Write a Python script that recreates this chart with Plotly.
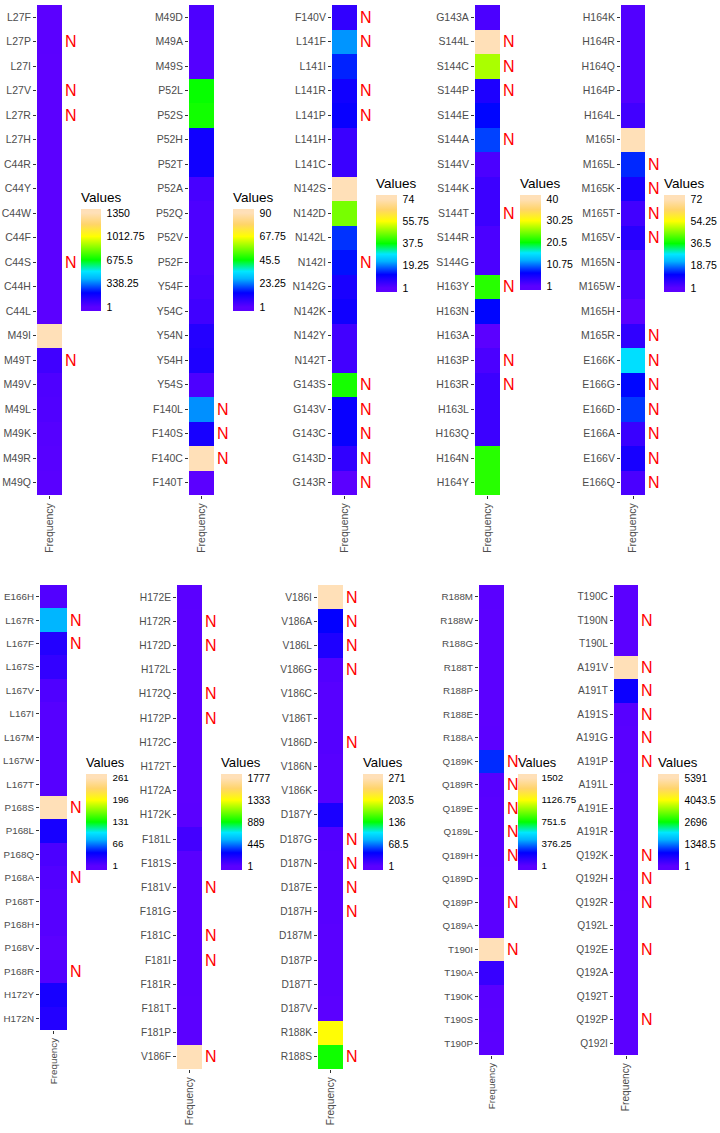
import plotly.graph_objects as go

W, H = 720, 1133

# ---------------- data ----------------
p1_labels = ["L27F", "L27P", "L27I", "L27V", "L27R", "L27H", "C44R", "C44Y", "C44W", "C44F",
             "C44S", "C44H", "C44L", "M49I", "M49T", "M49V", "M49L", "M49K", "M49R", "M49Q"]
p1_values = [2, 3, 1, 2, 2, 1, 1, 1, 1, 1, 2, 1, 1, 1350, 60, 30, 25, 15, 10, 5]
p1_n = ["L27P", "L27V", "L27R", "C44S", "M49T"]

p2_labels = ["M49D", "M49A", "M49S", "P52L", "P52S", "P52H", "P52T", "P52A", "P52Q", "P52V",
             "P52F", "Y54F", "Y54C", "Y54N", "Y54H", "Y54S", "F140L", "F140S", "F140C", "F140T"]
p2_values = [3, 2, 2, 46, 47, 12, 12, 4, 3, 3, 3, 4, 5, 9, 10, 3, 25, 11, 90, 1]
p2_n = ["F140L", "F140S", "F140C"]

p3_labels = ["F140V", "L141F", "L141I", "L141R", "L141P", "L141H", "L141C", "N142S", "N142D", "N142L",
             "N142I", "N142G", "N142K", "N142Y", "N142T", "G143S", "G143V", "G143C", "G143D", "G143R"]
p3_values = [6, 21, 14, 10, 11, 5, 5, 74, 46, 15, 13, 9, 10, 4, 4, 39, 11, 11, 6, 1]
p3_n = ["F140V", "L141F", "L141R", "L141P", "N142I", "G143S", "G143V", "G143C", "G143D", "G143R"]

p4_labels = ["G143A", "S144L", "S144C", "S144P", "S144E", "S144A", "S144V", "S144K", "S144T", "S144R",
             "S144G", "H163Y", "H163N", "H163A", "H163P", "H163R", "H163L", "H163Q", "H164N", "H164Y"]
p4_values = [2, 40, 27, 5, 7, 9, 2, 3, 3, 2, 2, 22, 7, 1, 2, 3, 3, 3, 22, 22]
p4_n = ["S144L", "S144C", "S144P", "S144A", "S144T", "H163Y", "H163P", "H163R"]

p5_labels = ["H164K", "H164R", "H164Q", "H164P", "H164L", "M165I", "M165L", "M165K", "M165T", "M165V",
             "M165N", "M165W", "M165H", "M165R", "E166K", "E166G", "E166D", "E166A", "E166V", "E166Q"]
p5_values = [2, 2, 2, 2, 4, 72, 14, 9, 4, 7, 3, 3, 1, 6, 27, 12, 15, 5, 9, 3]
p5_n = ["M165L", "M165K", "M165T", "M165V", "M165R", "E166K", "E166G", "E166D", "E166A", "E166V", "E166Q"]

p6_labels = ["E166H", "L167R", "L167F", "L167S", "L167V", "L167I", "L167M", "L167W", "L167T", "P168S",
             "P168L", "P168Q", "P168A", "P168T", "P168H", "P168V", "P168R", "H172Y", "H172N"]
p6_values = [5, 80, 25, 18, 6, 3, 3, 3, 3, 261, 30, 8, 5, 3, 3, 1, 4, 30, 25]
p6_n = ["L167R", "L167F", "P168S", "P168A", "P168R"]

p7_labels = ["H172E", "H172R", "H172D", "H172L", "H172Q", "H172P", "H172C", "H172T", "H172A", "H172K",
             "F181L", "F181S", "F181V", "F181G", "F181C", "F181I", "F181R", "F181T", "F181P", "V186F"]
p7_values = [3, 2, 2, 2, 2, 2, 2, 2, 2, 5, 70, 8, 6, 4, 4, 4, 3, 2, 1, 1777]
p7_n = ["H172R", "H172D", "H172Q", "H172P", "F181V", "F181C", "F181I", "V186F"]

p8_labels = ["V186I", "V186A", "V186L", "V186G", "V186C", "V186T", "V186D", "V186N", "V186K", "D187Y",
             "D187G", "D187N", "D187E", "D187H", "D187M", "D187P", "D187T", "D187V", "R188K", "R188S"]
p8_values = [271, 40, 28, 5, 3, 3, 4, 3, 3, 30, 5, 4, 4, 3, 2, 2, 2, 1, 205, 140]
p8_n = ["V186I", "V186A", "V186L", "V186G", "V186D", "D187G", "D187N", "D187E", "D187H", "R188S"]

p9_labels = ["R188M", "R188W", "R188G", "R188T", "R188P", "R188E", "R188A", "Q189K", "Q189R", "Q189E",
             "Q189L", "Q189H", "Q189D", "Q189P", "Q189A", "T190I", "T190A", "T190K", "T190S", "T190P"]
p9_values = [3, 2, 2, 2, 2, 2, 3, 280, 10, 5, 4, 3, 2, 2, 1, 1502, 90, 5, 3, 2]
p9_n = ["Q189K", "Q189R", "Q189E", "Q189L", "Q189H", "Q189P", "T190I"]

p10_labels = ["T190C", "T190N", "T190L", "A191V", "A191T", "A191S", "A191G", "A191P", "A191L", "A191E",
              "A191R", "Q192K", "Q192H", "Q192R", "Q192L", "Q192E", "Q192A", "Q192T", "Q192P", "Q192I"]
p10_values = [5, 4, 3, 5391, 700, 40, 20, 15, 10, 8, 6, 8, 6, 5, 4, 3, 2, 2, 2, 1]
p10_n = ["T190N", "A191V", "A191T", "A191S", "A191G", "A191P", "Q192K", "Q192H", "Q192R", "Q192E", "Q192P"]

panels = [
    (p1_labels, p1_values, p1_n), (p2_labels, p2_values, p2_n), (p3_labels, p3_values, p3_n),
    (p4_labels, p4_values, p4_n), (p5_labels, p5_values, p5_n), (p6_labels, p6_values, p6_n),
    (p7_labels, p7_values, p7_n), (p8_labels, p8_values, p8_n), (p9_labels, p9_values, p9_n),
    (p10_labels, p10_values, p10_n),
]

# ---------------- geometry (pixels) ----------------
# heatmap x0,x1,y0,y1 ; colorbar x0,x1,y0,y1 ; font size
geom = [
    (37, 62, 5, 495, 81, 101, 209, 311, 10.5),
    (189, 214, 5, 495, 233, 254, 209, 311, 10.5),
    (332, 357, 5, 495, 376, 397, 195, 292, 10.5),
    (475, 500, 5, 495, 520, 541, 195, 290, 10.5),
    (621, 645, 5, 495, 664, 685, 195, 292, 10.5),
    (40, 67, 585, 1030, 86, 107, 774, 870, 9.8),
    (177, 202, 585, 1069, 221, 242, 774, 870, 10.2),
    (318, 343, 585, 1069, 363, 383, 774, 870, 10.2),
    (479, 504, 585, 1055, 518, 537, 774, 870, 9.8),
    (614, 638, 585, 1055, 658, 679, 774, 870, 10.2),
]

base_scale = [
    (0.0, "#5B00FF"),
    (0.15, "#0000FF"),
    (0.3, "#00B4FF"),
    (0.38, "#00E8FF"),
    (0.5, "#00FF00"),
    (0.75, "#FFFF00"),
    (0.88, "#FFD46A"),
    (1.0, "#FFE0B8"),
]
PAD = 4  # px the legend bar extends beyond its limits (ggplot style)

FONT = "Liberation Sans, Arial, Helvetica, sans-serif"


def fmt(v):
    return f"{v:.2f}".rstrip("0").rstrip(".")


fig = go.Figure()
layout = dict(
    width=W, height=H, margin=dict(l=0, r=0, t=0, b=0),
    paper_bgcolor="white", plot_bgcolor="white",
    font=dict(family=FONT), showlegend=False,
)
annotations = []

for i, ((labels, values, nlist), g) in enumerate(zip(panels, geom), start=1):
    hx0, hx1, hy0, hy1, cx0, cx1, cy0, cy1, fs = g
    sfx = "" if i == 1 else str(i)
    cax = "coloraxis" + sfx
    vmin, vmax = min(values), max(values)
    barlen = cy1 - cy0
    e = PAD / (barlen - 2 * PAD)
    delta = (vmax - vmin) * e
    cs = [[0.0, base_scale[0][1]]]
    cs += [[(s + e) / (1 + 2 * e), c] for s, c in base_scale]
    cs += [[1.0, base_scale[-1][1]]]
    fig.add_trace(go.Heatmap(
        x=["Frequency"], y=labels, z=[[v] for v in values],
        coloraxis=cax, xaxis="x" + sfx, yaxis="y" + sfx,
    ))
    tv = [vmin + k * (vmax - vmin) / 4 for k in range(5)]
    title_h = 20
    layout[cax] = dict(
        colorscale=cs, cmin=vmin - delta, cmax=vmax + delta,
        colorbar=dict(
            x=cx0 / W, xanchor="left", y=1 - (cy0 - title_h) / H, yanchor="top",
            len=(barlen + title_h) / H, lenmode="fraction",
            thickness=cx1 - cx0, thicknessmode="pixels",
            xpad=0, ypad=0, outlinewidth=0,
            ticks="outside", ticklen=3 if i == 9 else 4, tickcolor="rgba(0,0,0,0)", tickwidth=1,
            tickvals=tv, ticktext=[fmt(v) for v in tv],
            tickfont=dict(size=fs, color="black", family=FONT),
            title=dict(text="Values", side="top", font=dict(size=fs + 3, color="black", family=FONT)),
        ),
    )
    layout["xaxis" + sfx] = dict(
        domain=[hx0 / W, hx1 / W], anchor="y" + sfx,
        showgrid=False, zeroline=False, showline=False,
        ticks="outside", ticklen=3, tickcolor="#333333",
        tickangle=-90, tickfont=dict(size=fs, color="#4D4D4D", family=FONT),
        fixedrange=True,
    )
    layout["yaxis" + sfx] = dict(
        domain=[1 - hy1 / H, 1 - hy0 / H], anchor="x" + sfx,
        type="category", categoryorder="array", categoryarray=labels,
        autorange="reversed",
        showgrid=False, zeroline=False, showline=False,
        ticks="outside", ticklen=3, tickcolor="#333333",
        tickfont=dict(size=fs, color="#4D4D4D", family=FONT),
        fixedrange=True,
    )
    for lab in nlist:
        annotations.append(dict(
            x=(hx1 + 9) / W, xref="paper", xanchor="center",
            y=lab, yref="y" + sfx, yanchor="middle",
            text="N", showarrow=False,
            font=dict(size=16, color="#FF0000", family=FONT),
        ))

layout["annotations"] = annotations
fig.update_layout(**layout)
fig.write_html(
    "out.html",
    config={"displayModeBar": False},
    post_script="document.body.style.margin='0';document.body.style.overflow='hidden';",
)
